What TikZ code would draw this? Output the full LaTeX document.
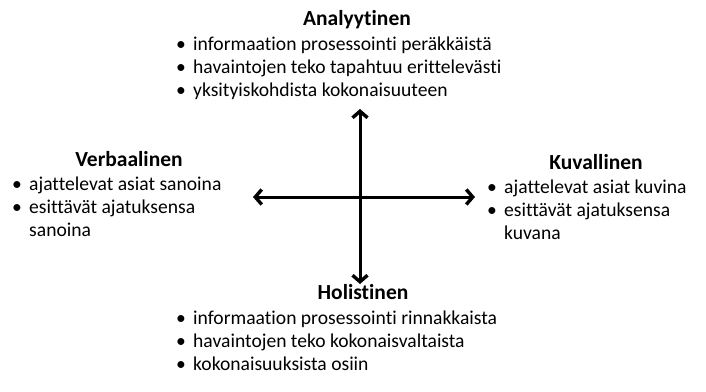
\documentclass[tikz,border=0pt]{standalone}
\usepackage{fontspec}
\setmainfont{Carlito}[Ligatures=NoCommon]
\usetikzlibrary{arrows.meta}

\begin{document}
\begin{tikzpicture}[x=1pt, y=-1pt,
        title/.style={font=\fontsize{21.5}{23}\selectfont\bfseries, anchor=base, inner sep=0pt},
        items/.style={font=\fontsize{19.6}{23}\selectfont, anchor=base west, inner sep=0pt},
        arrow/.style={line width=3pt,
            {Straight Barb[length=6.5pt,width=15pt,line width=3.4pt]}-{Straight Barb[length=6.5pt,width=15pt,line width=3.4pt]}}
    ]
        \useasboundingbox (0,0) rectangle (706,391);

        % Ylhaalla
        \node[title] (ana) at (357,25) {Analyytinen};
        \node[items] (anaList) at (176,50) {\begin{tabular}[t]{@{}p{17pt}@{}l@{}}
            • & informaation prosessointi peräkkäistä\\
            • & havaintojen teko tapahtuu erittelevästi\\
            • & yksityiskohdista kokonaisuuteen
        \end{tabular}};

        % Vasemmalla
        \node[title] (verb) at (129,166) {Verbaalinen};
        \node[items] (verbList) at (12,190) {\begin{tabular}[t]{@{}p{17pt}@{}l@{}}
            • & ajattelevat asiat sanoina\\
            • & esittävät ajatuksensa\\
              & sanoina
        \end{tabular}};

        % Oikealla
        \node[title] (kuva) at (596,169) {Kuvallinen};
        \node[items] (kuvaList) at (487,193) {\begin{tabular}[t]{@{}p{17pt}@{}l@{}}
            • & ajattelevat asiat kuvina\\
            • & esittävät ajatuksensa\\
              & kuvana
        \end{tabular}};

        % Alhaalla
        \node[title] (holi) at (363,299) {Holistinen};
        \node[items] (holiList) at (176,324) {\begin{tabular}[t]{@{}p{17pt}@{}l@{}}
            • & informaation prosessointi rinnakkaista\\
            • & havaintojen teko kokonaisvaltaista\\
            • & kokonaisuuksista osiin
        \end{tabular}};

        % Akselit
        \coordinate (up) at (360,109);
        \coordinate (down) at (360,284);
        \coordinate (left) at (253,197);
        \coordinate (right) at (475,197);
        \draw[arrow] (up) -- (down);
        \draw[arrow] (left) -- (right);

    \end{tikzpicture}
\end{document}
